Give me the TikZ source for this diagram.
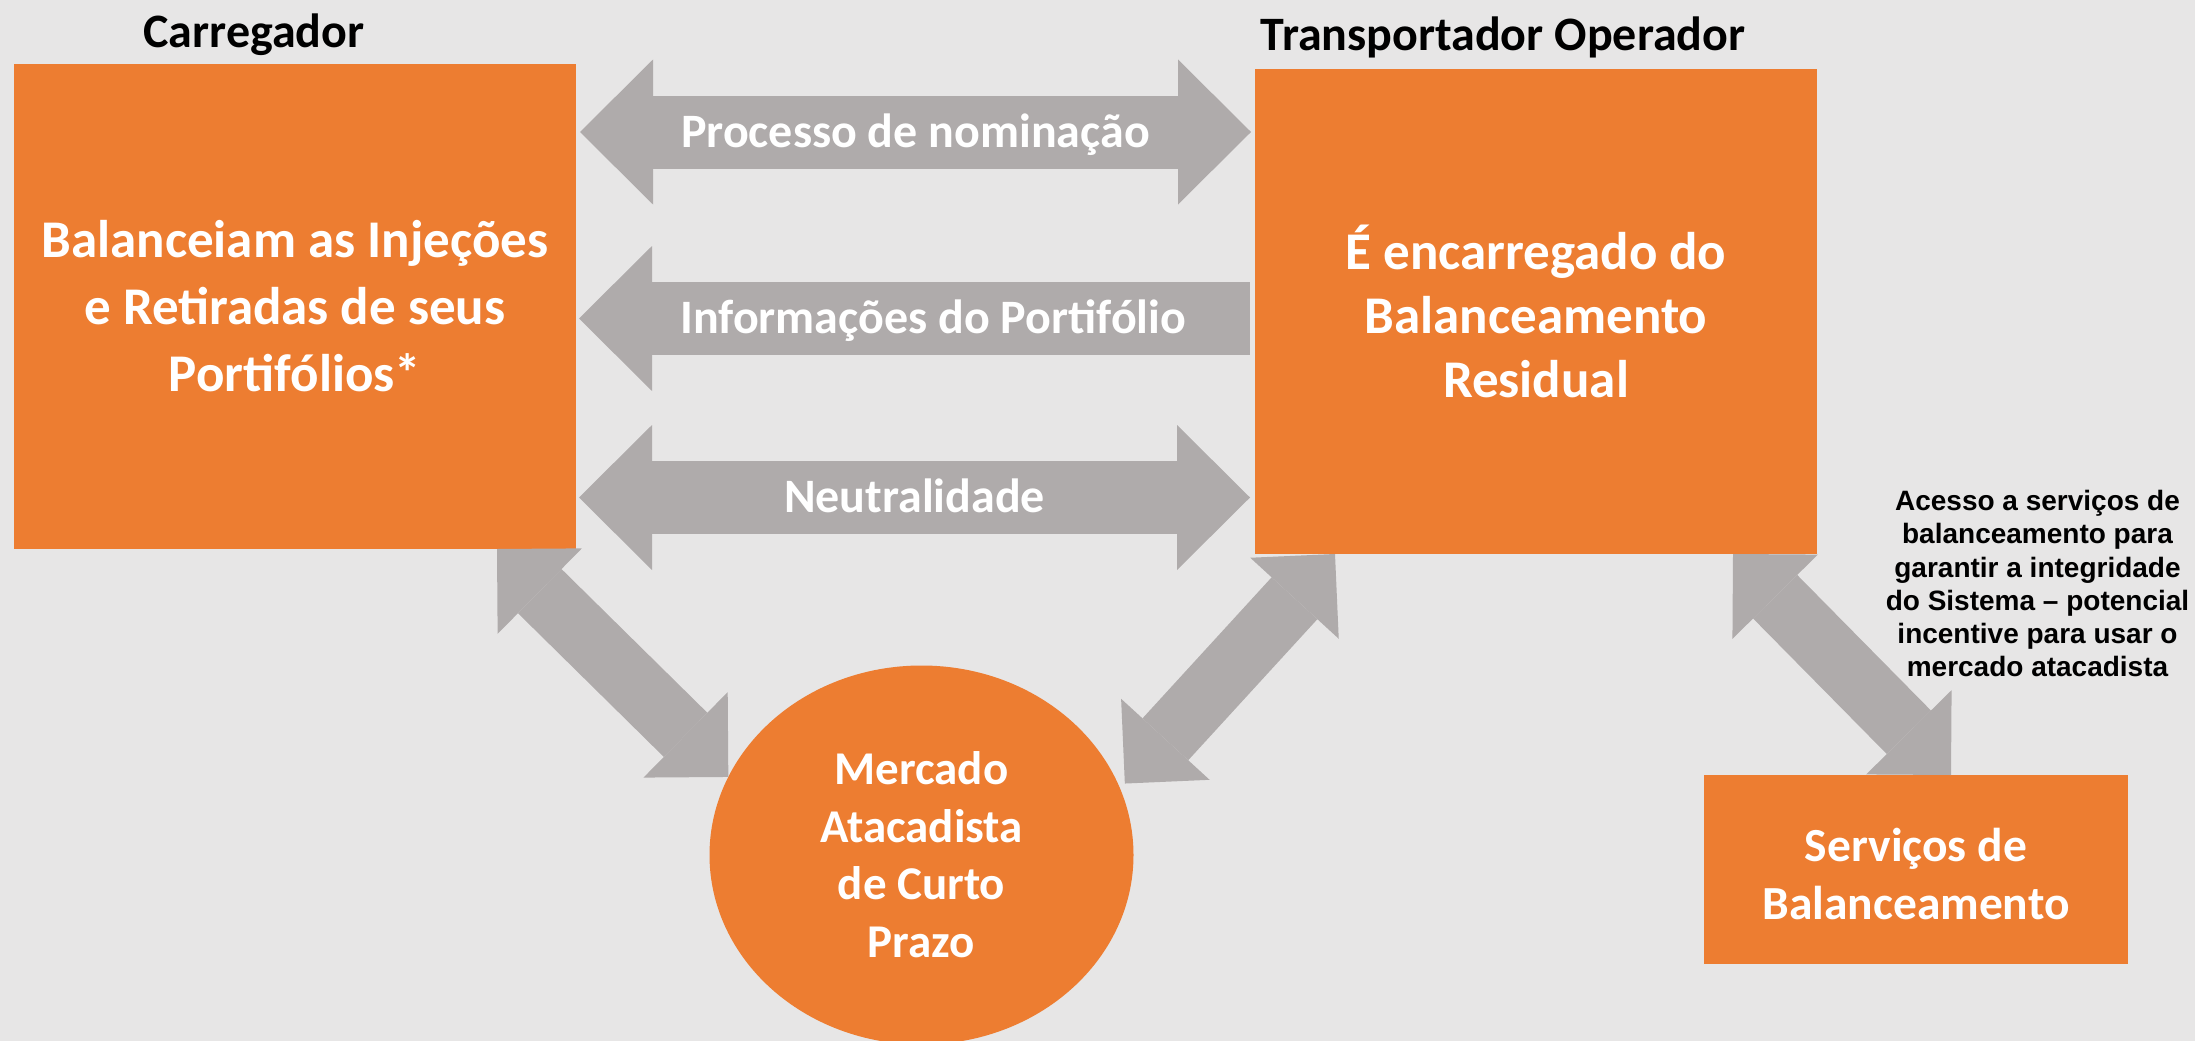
\documentclass[tikz,border=0pt]{standalone}
\usepackage{fontspec}
\usepackage{tikz}
\usetikzlibrary{shapes.geometric, arrows.meta}

\newfontfamily\calibri{Carlito}
\newfontfamily\arial{Liberation Sans}

\definecolor{laranja}{HTML}{ED7D31}
\definecolor{cinza}{HTML}{AFABAB}
\definecolor{fundo}{HTML}{E7E6E6}

\newcommand{\sobe}[1]{\rule{0pt}{#1}}
\newcommand{\desce}[1]{\rule[-#1]{0pt}{0pt}}

\begin{document}
\begin{tikzpicture}[x=1pt, y=-1pt,
	caixa/.style={fill=laranja, text=white, align=center, inner sep=0pt, outer sep=0pt},
	titulo/.style={anchor=base, font=\calibri\bfseries\fontsize{48}{58}\selectfont},
	rotulo/.style={text=white, text height=30pt, text depth=0pt, inner sep=0pt, font=\calibri\bfseries\fontsize{48}{58}\selectfont},
	nota/.style={align=center, inner sep=0pt, font=\arial\bfseries\fontsize{28}{33.2}\selectfont},
	seta/.style={draw=cinza, line width=73pt, >={Triangle[length=73pt, width=145pt, line width=0pt]}},
	setad/.style={draw=cinza, line width=62pt, >={Triangle[length=60pt, width=120pt, line width=0pt]}, <->}
	]
	
	\useasboundingbox (0,0) rectangle (2195,1041);
	\fill [fundo]     (0,0)    rectangle    (2195,1041);
	
	\node [caixa, minimum width=562pt, minimum height=485pt, font=\calibri\bfseries\fontsize{53}{67}\selectfont]   (carr)   at ( 295, 306.5) {\sobe{45pt}Balanceiam as Injeções\\e Retiradas de seus\\Portifólios*\desce{10pt}};
	\node [caixa, minimum width=562pt, minimum height=485pt, font=\calibri\bfseries\fontsize{53}{64}\selectfont]   (transp) at (1536, 311.5) {É encarregado do\\Balanceamento\\Residual};
	\node [caixa, minimum width=424pt, minimum height=189pt, font=\calibri\bfseries\fontsize{47.5}{58}\selectfont] (serv)   at (1916, 869.5) {\sobe{42pt}Serviços de\\Balanceamento};
	\node [caixa, ellipse, minimum width=424pt, minimum height=379pt, font=\calibri\bfseries\fontsize{47}{57.5}\selectfont] (mkt) at (921.5, 855) {\sobe{40pt}Mercado\\Atacadista\\de Curto\\Prazo\desce{8.5pt}};
	
	\node [titulo] (tcarr)   at ( 254, 48) {Carregador};
	\node [titulo] (ttransp) at (1503, 51) {Transportador Operador};
	
	\coordinate (lnom)  at (0, 132);
	\coordinate (linfo) at (0, 318.5);
	\coordinate (lneut) at (0, 497.5);
	
	\draw [seta, <->] ([xshift=4pt]carr.east |- lnom)  -- ([xshift=-4pt]transp.west |- lnom)  node [rotulo, midway]    (nom)  {Processo de nominação};
	\draw [seta, <-]  ([xshift=3pt]carr.east |- linfo) -- ([xshift=-5pt]transp.west |- linfo) node [rotulo, pos=0.528] (info) {Informações do Portifólio};
	\draw [seta, <->] ([xshift=3pt]carr.east |- lneut) -- ([xshift=-5pt]transp.west |- lneut) node [rotulo, midway]    (neut) {Neutralidade};
	
	\draw [setad] ([xshift=-79pt]carr.south east)   -- (mkt.158);
	\draw [setad] ([xshift=7pt]mkt.20)              -- ([xshift=80pt]transp.south west);
	\draw [setad] ([xshift=-84pt]transp.south east) -- ([xshift=-177pt]serv.north east);
	
	\node [nota] (acesso) at (2037.5, 583.7) {\sobe{24pt}Acesso a serviços de\\balanceamento para\\garantir a integridade\\do Sistema – potencial\\incentive para usar o\\mercado atacadista\desce{4pt}};
	
\end{tikzpicture}
\end{document}
